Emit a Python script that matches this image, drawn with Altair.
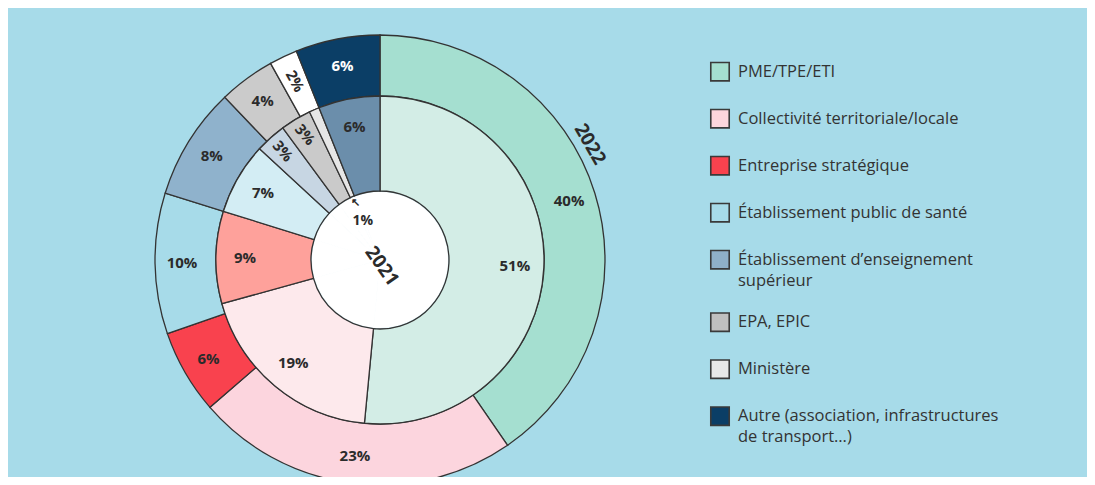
import altair as alt
import pandas as pd

# ---------------- data ----------------
categories = [
    "PME/TPE/ETI",
    "Collectivité territoriale/locale",
    "Entreprise stratégique",
    "Établissement public de santé",
    "Établissement d’enseignement supérieur",
    "EPA, EPIC",
    "Ministère",
    "Autre (association, infrastructures de transport…)",
]
legend_labels = [
    "PME/TPE/ETI",
    "Collectivité territoriale/locale",
    "Entreprise stratégique",
    "Établissement public de santé",
    "Établissement d’enseignement|supérieur",
    "EPA, EPIC",
    "Ministère",
    "Autre (association, infrastructures|de transport…)",
]
values_2022 = [40, 23, 6, 10, 8, 4, 2, 6]
values_2021 = [51, 19, 9, 7, 3, 3, 1, 6]

colors_2022 = ["#a5dfd0", "#fcd5de", "#f9424e", "#a7dbe9", "#8fb2cc", "#cbcbcb", "#ffffff", "#0b3e66"]
colors_2021 = ["#d3ede6", "#fde9ec", "#fea19b", "#d3edf4", "#c7d6e3", "#cacaca", "#e6e6e6", "#6b8eab"]
legend_colors = ["#a5dfd0", "#fdd5dc", "#f9424e", "#a7dbe9", "#8fb0c8", "#bfbfbf", "#e8e8e8", "#0b3e66"]

# ---------------- layout / style ----------------
W, H = 1079, 469
CX, CY = 372, 252
R_OUT, R_MID, R_IN = 225, 164, 69
BG = "#a7dbe9"
EDGE = "#333333"
FONT = "Open Sans"
TXT = "#2b2b2b"

n = len(categories)
df22 = pd.DataFrame({"cat": categories, "v": values_2022, "idx": list(range(n)), "fill": colors_2022})
df21 = pd.DataFrame({"cat": categories, "v": values_2021, "idx": list(range(n)), "fill": colors_2021})


def ring(df, r_in, r_out):
    return alt.Chart(df).mark_arc(
        stroke=EDGE, strokeWidth=1.3, radius=r_out, radius2=r_in
    ).encode(
        theta=alt.Theta("v:Q", stack=True),
        order=alt.Order("idx:Q"),
        fill=alt.Fill("fill:N", scale=None),
        x=alt.value(CX),
        y=alt.value(CY),
    )


# white centre (drawn first; the inner ring strokes its edge)
hole = alt.Chart(df21).mark_arc(
    fill="white", stroke="white", strokeWidth=0.8, radius=R_IN - 1, radius2=0
).encode(
    theta=alt.Theta("v:Q", stack=True),
    order=alt.Order("idx:Q"),
    x=alt.value(CX),
    y=alt.value(CY),
)


def labels(df, r_lab, show, angle=0, color=None, size=15, txt_expr="datum.v + '%'"):
    kw = dict(font=FONT, fontSize=size, fontWeight="bold", radius=r_lab, angle=angle)
    enc = dict(
        theta=alt.Theta("v:Q", stack=True),
        order=alt.Order("idx:Q"),
        text=alt.Text("txt:N"),
        x=alt.value(CX),
        y=alt.value(CY),
        opacity=alt.condition(show, alt.value(1), alt.value(0)),
        color=color if color is not None else alt.value(TXT),
    )
    return alt.Chart(df).transform_calculate(txt=txt_expr).mark_text(**kw).encode(**enc)


outer_lab = labels(
    df22, 198, "datum.v != 2",
    color=alt.condition("datum.idx == 7", alt.value("white"), alt.value(TXT)),
)
outer_rot = labels(df22, 198, "datum.v == 2", angle=61)
inner_lab = labels(df21, 135, "datum.v > 3")
inner_rot = labels(df21, 146, "datum.v == 3", angle=50)
inner_one = labels(df21, 43, "datum.v < 2", size=14)
inner_arrow = labels(df21, 62, "datum.v < 2", size=11, txt_expr="'↖'")

years = pd.DataFrame({"t": ["2022"]})
years21 = pd.DataFrame({"t": ["2021"]})
year22 = alt.Chart(years).mark_text(
    font=FONT, fontSize=19, fontWeight="bold", angle=60, color=TXT
).encode(x=alt.value(582), y=alt.value(136), text="t:N")
year21 = alt.Chart(years21).mark_text(
    font=FONT, fontSize=19, fontWeight="bold", angle=55, color=TXT
).encode(x=alt.value(374), y=alt.value(258), text="t:N")

# ---------------- legend ----------------
LINE_STEP = 0.33  # extra row height of a wrapped line, in legend rows
sq_rows, txt_rows = [], []
extra = 0.0
for i, (lab, col) in enumerate(zip(legend_labels, legend_colors)):
    pos = i + extra
    sq_rows.append({"pos": pos, "color": col})
    for j, line in enumerate(lab.split("|")):
        txt_rows.append({"pos": pos + j * 0.45, "line": line})
    extra += (len(lab.split("|")) - 1) * LINE_STEP
leg_sq_df = pd.DataFrame(sq_rows)
leg_txt_df = pd.DataFrame(txt_rows)

leg_y = alt.Scale(domain=[0, 7 + LINE_STEP], range=[63.7, 408.2])

leg_sq = alt.Chart(leg_sq_df).mark_square(
    size=340, opacity=1, stroke="#3a3a3a", strokeWidth=1.6
).encode(
    x=alt.value(712),
    y=alt.Y("pos:Q", scale=leg_y, axis=None),
    fill=alt.Fill("color:N", scale=None),
)
leg_txt = alt.Chart(leg_txt_df).mark_text(
    align="left", baseline="middle", font=FONT, fontSize=16.5, color="#333333"
).encode(
    x=alt.value(730),
    y=alt.Y("pos:Q", scale=leg_y, axis=None),
    text="line:N",
)

chart = alt.layer(
    hole,
    ring(df22, R_MID, R_OUT),
    ring(df21, R_IN, R_MID),
    outer_lab,
    outer_rot,
    inner_lab,
    inner_rot,
    inner_one,
    inner_arrow,
    year22,
    year21,
    leg_sq,
    leg_txt,
).properties(
    width=W, height=H, padding=0, background=BG,
    autosize=alt.AutoSizeParams(type="none")
).configure_view(strokeWidth=0)

chart.save("out.html", embed_options={"renderer": "svg", "actions": False})
